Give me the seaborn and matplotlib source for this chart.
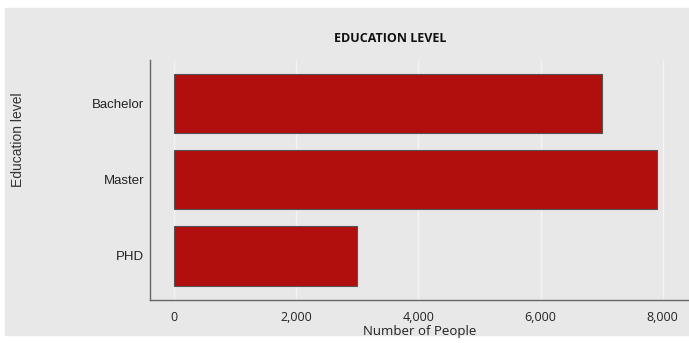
import pandas as pd
import seaborn as sns
import matplotlib.pyplot as plt
from matplotlib.patches import Rectangle
from matplotlib.ticker import FuncFormatter

# --- Data ---
levels = ["Bachelor", "Master", "PHD"]
people = [7000, 7900, 3000]

df = pd.DataFrame({"Education level": levels, "Number of People": people})

# --- Style ---
bg = "#e8e8e8"
sns.set_style("white")
plt.rcParams["font.family"] = ["Liberation Sans", "DejaVu Sans"]

fig = plt.figure(figsize=(6.89, 3.43), dpi=100, facecolor="white")
# gray panel behind everything
fig.patches.append(Rectangle((5 / 689, 8 / 343), 684 / 689, 327 / 343,
                             transform=fig.transFigure, color=bg, zorder=-1))
ax = fig.add_axes([150 / 689, 43 / 343, 539 / 689, 240 / 343])
ax.set_facecolor(bg)

sns.barplot(data=df, y="Education level", x="Number of People", color="#b10e0e",
            saturation=1, width=0.78, edgecolor="#555555", linewidth=0.8, ax=ax)

ax.set_xlim(-393, 8430)
ax.set_ylim(2.58, -0.57)
ax.set_xticks([0, 2000, 4000, 6000, 8000])
ax.xaxis.set_major_formatter(FuncFormatter(lambda v, p: f"{int(v):,}"))
ax.grid(axis="x", color="#f3f3f3", linewidth=1)
ax.set_axisbelow(True)

for s in ["top", "right"]:
    ax.spines[s].set_visible(False)
for s in ["left", "bottom"]:
    ax.spines[s].set_color("#666666")
    ax.spines[s].set_linewidth(1.0)

ax.tick_params(axis="both", length=0, colors="#222222")
ax.tick_params(axis="x", pad=8)
ax.tick_params(axis="y", pad=4)
for lab in ax.get_xticklabels():
    lab.set_family(["Open Sans", "DejaVu Sans"])
    lab.set_fontsize(9)
for lab in ax.get_yticklabels():
    lab.set_fontsize(9.5)

ax.set_xlabel("Number of People", fontsize=9.5, family=["Open Sans", "DejaVu Sans"],
              color="#222222", labelpad=1)
ax.set_ylabel("")
fig.text(18 / 689, 1 - 140 / 343, "Education level", rotation=90, va="center", ha="center",
         fontsize=10, color="#333333")
fig.text(390 / 689, 1 - 38 / 343, "EDUCATION LEVEL", ha="center", va="center",
         fontsize=9, fontweight="bold", family=["Open Sans", "DejaVu Sans"], color="#111111")

fig.savefig("out.png", dpi=100, facecolor="white")
